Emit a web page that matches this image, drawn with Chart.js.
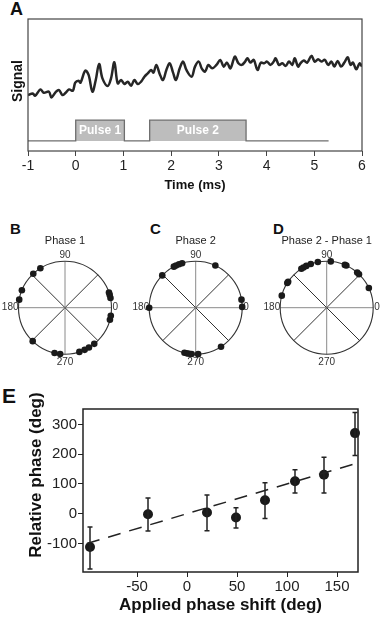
<!DOCTYPE html>
<html lang="en">
<head>
<meta charset="UTF-8">
<title>Phase shift figure</title>
<script src="https://cdn.jsdelivr.net/npm/chart.js"></script>
<style>
    body { margin: 0; background: #fff; width: 382px; height: 617px; position: relative; overflow: hidden;
           font-family: "Liberation Sans", Arial, sans-serif; }
    canvas { position: absolute; }
    .letter { position: absolute; font-weight: bold; color: #111; line-height: 1; }
</style>
</head>
<body>
<div class="letter" style="left:10px;top:0px;font-size:18px">A</div>
<div class="letter" style="left:10px;top:221px;font-size:15px">B</div>
<div class="letter" style="left:150px;top:221px;font-size:15px">C</div>
<div class="letter" style="left:273px;top:221px;font-size:15px">D</div>
<div class="letter" style="left:2px;top:385px;font-size:21px">E</div>

<canvas id="chartA" width="382" height="200" style="left:0;top:0"></canvas>
<canvas id="chartB" width="130" height="150" style="left:0;top:225px"></canvas>
<canvas id="chartC" width="130" height="150" style="left:130px;top:225px"></canvas>
<canvas id="chartD" width="122" height="150" style="left:260px;top:225px"></canvas>
<canvas id="chartE" width="382" height="232" style="left:0;top:385px"></canvas>

<script>
// Panel A: recorded signal (time in ms, arbitrary units)
const signalTime = [
    -1.00, -0.90, -0.85, -0.74, -0.67, -0.56, -0.51, -0.42, -0.35, -0.28, -0.21, -0.14, -0.06, -0.01,
    0.06, 0.10, 0.20, 0.27, 0.35, 0.42, 0.49, 0.56, 0.67, 0.74, 0.81, 0.88, 0.95,
    1.02, 1.09, 1.16, 1.23, 1.30, 1.37, 1.44, 1.51, 1.58, 1.63, 1.69, 1.76, 1.83, 1.90, 1.97,
    2.04, 2.10, 2.18, 2.25, 2.32, 2.43, 2.50, 2.58, 2.64, 2.71, 2.78, 2.86, 2.95,
    3.03, 3.10, 3.17, 3.24, 3.31, 3.34, 3.41, 3.48, 3.55, 3.60, 3.66, 3.73, 3.81, 3.88, 3.95,
    4.01, 4.08, 4.15, 4.19, 4.26, 4.33, 4.40, 4.47, 4.54, 4.59, 4.66, 4.71, 4.78, 4.85, 4.94,
    5.01, 5.08, 5.15, 5.22, 5.29, 5.36, 5.42, 5.49, 5.56, 5.63, 5.70, 5.76, 5.81, 5.88, 5.95, 6.00
];
const signalValue = [
    55.7, 57.3, 55.0, 61.3, 58.0, 59.0, 53.3, 58.7, 60.7, 55.7, 58.0, 61.3, 60.0, 68.0,
    70.0, 68.0, 80.0, 75.7, 59.0, 70.7, 86.7, 72.3, 64.7, 72.3, 88.3, 67.3, 70.7,
    66.7, 69.0, 65.0, 70.7, 66.7, 69.0, 74.0, 77.3, 80.7, 78.0, 85.7, 76.7, 70.7, 80.7, 87.3,
    78.0, 70.7, 82.3, 89.0, 80.7, 74.0, 84.0, 89.0, 82.3, 79.0, 85.7, 82.3, 85.7,
    90.7, 84.0, 88.0, 82.3, 91.3, 94.0, 87.3, 85.7, 89.0, 92.3, 88.0, 90.7, 80.7, 88.0, 87.3,
    89.0, 85.7, 89.0, 92.3, 85.7, 87.3, 84.7, 89.0, 85.7, 92.3, 84.0, 87.3, 90.0, 88.0, 94.7,
    89.0, 91.3, 89.0, 90.7, 85.7, 89.0, 84.0, 89.7, 84.0, 88.0, 93.3, 85.7, 88.0, 81.3, 87.3, 84.0
];
const pulseNames = ['Pulse 1', 'Pulse 2'];
const pulseStart = [0, 1.55];
const pulseEnd = [1.02, 3.57];
const pulseLow = 10;
const pulseHigh = 30.7;
const pulseLineStart = -1;
const pulseLineEnd = 5.3;
const timeTicks = [-1, 0, 1, 2, 3, 4, 5, 6];

// Panels B-D: phases (deg)
const phase1Angles = [122, 133, 158, 170, 12, 16, 19, 345, 350, 226, 257, 264, 288, 295, 301, 309];
const phase2Angles = [65, 107, 111, 115, 118, 136, 180, 1, 10, 256, 259, 262, 265, 273, 303];
const diffAngles = [25, 46, 49, 65, 67, 85, 101, 110, 116, 120, 123, 146, 148, 165];
const polarLabels = [0, 90, 180, 270];

// Panel E
const appliedShift = [-97, -39, 20, 49, 78, 108, 137, 168];
const relPhase = [-112, -2, 4, -13, 45, 109, 131, 271];
const relPhaseHigh = [-45, 53, 63, 20, 104, 148, 190, 340];
const relPhaseLow = [-186, -58, -57, -48, -16, 70, 70, 196];
const fitX = [-100, 168];
const fitY = [-100, 168];
const shiftTicks = [-50, 0, 50, 100, 150];
const phaseTicks = [-100, 0, 100, 200, 300];

const FONT = '"Liberation Sans", Arial, sans-serif';
Chart.defaults.font.family = FONT;
Chart.defaults.color = '#222';

const toXY = (xs, ys) => xs.map((x, i) => ({ x: x, y: ys[i] }));

const frameBox = {
    id: 'frameBox',
    afterDatasetsDraw(chart, args, opts) {
        const { ctx, chartArea } = chart;
        ctx.save();
        ctx.strokeStyle = opts.color || '#333';
        ctx.lineWidth = opts.width || 1.2;
        ctx.strokeRect(chartArea.left, chartArea.top, chartArea.width, chartArea.height);
        ctx.restore();
    }
};

// rotated axis title placed a bit off the axis centre, as in the figure
const sideTitle = {
    id: 'sideTitle',
    afterDraw(chart, args, opts) {
        if (!opts.text) return;
        const { ctx } = chart;
        ctx.save();
        ctx.translate(opts.x, opts.y);
        ctx.rotate(-Math.PI / 2);
        ctx.font = opts.font;
        ctx.fillStyle = '#111';
        ctx.textAlign = 'center';
        ctx.textBaseline = 'middle';
        ctx.fillText(opts.text, 0, 0);
        ctx.restore();
    }
};

// build pulse step trace from pulse arrays
const pulseTime = [pulseLineStart];
const pulseLevel = [pulseLow];
pulseStart.forEach((s, i) => {
    pulseTime.push(s, s, pulseEnd[i], pulseEnd[i]);
    pulseLevel.push(pulseLow, pulseHigh, pulseHigh, pulseLow);
});
pulseTime.push(pulseLineEnd);
pulseLevel.push(pulseLow);

const pulseText = {
    id: 'pulseText',
    afterDatasetsDraw(chart) {
        const { ctx, scales: { x, y } } = chart;
        ctx.save();
        ctx.fillStyle = '#fff';
        ctx.font = 'bold 12px ' + FONT;
        ctx.textAlign = 'center';
        ctx.textBaseline = 'middle';
        pulseNames.forEach((name, i) => {
            const cx = x.getPixelForValue((pulseStart[i] + pulseEnd[i]) / 2);
            const cy = y.getPixelForValue((pulseLow + pulseHigh) / 2);
            ctx.fillText(name, cx, cy);
        });
        ctx.restore();
    }
};

new Chart(document.getElementById('chartA'), {
    type: 'scatter',
    data: {
        datasets: [
            {
                data: toXY(pulseTime, pulseLevel),
                showLine: true,
                borderColor: '#6e6e6e',
                borderWidth: 1.3,
                pointRadius: 0,
                fill: { value: pulseLow },
                backgroundColor: '#bdbdbd'
            },
            {
                data: toXY(signalTime, signalValue),
                showLine: true,
                borderColor: '#262626',
                borderWidth: 2.5,
                pointRadius: 0,
                tension: 0.35,
                fill: false
            }
        ]
    },
    options: {
        responsive: false,
        animation: false,
        events: [],
        layout: { padding: { left: 0, right: 20, top: 19, bottom: 0 } },
        plugins: {
            legend: { display: false }, tooltip: { enabled: false },
            frameBox: { color: '#444', width: 1.2 },
            sideTitle: { text: 'Signal', x: 18, y: 81, font: 'bold 14px ' + FONT }
        },
        scales: {
            x: {
                type: 'linear', min: -1, max: 6,
                afterBuildTicks: s => { s.ticks = timeTicks.map(v => ({ value: v })); },
                afterFit: s => { s.height = 49; },
                ticks: { font: { size: 14 }, padding: 2, color: '#222' },
                grid: { drawOnChartArea: false, tickLength: 5, color: '#444' },
                border: { display: false },
                title: { display: true, text: 'Time (ms)', font: { size: 13, weight: 'bold' }, color: '#111', padding: { top: 0, bottom: 7 } }
            },
            y: {
                min: 0, max: 131.4,
                afterFit: s => { s.width = 28; },
                ticks: { display: false },
                grid: { display: false },
                border: { display: false }
            }
        }
    },
    plugins: [frameBox, pulseText, sideTitle]
});

// polar grid: circle, spokes and angle labels
const polarGrid = {
    id: 'polarGrid',
    beforeDatasetsDraw(chart) {
        const { ctx, scales: { x, y } } = chart;
        const cx = x.getPixelForValue(0);
        const cy = y.getPixelForValue(0);
        const r = x.getPixelForValue(1) - cx;
        ctx.save();
        for (let a = 0; a < 360; a += 45) {
            const rad = a * Math.PI / 180;
            ctx.beginPath();
            ctx.moveTo(cx, cy);
            ctx.lineTo(cx + r * Math.cos(rad), cy - r * Math.sin(rad));
            ctx.strokeStyle = a % 90 === 0 ? '#8a8a8a' : '#333';
            ctx.lineWidth = 1;
            ctx.stroke();
        }
        ctx.beginPath();
        ctx.arc(cx, cy, r, 0, Math.PI * 2);
        ctx.strokeStyle = '#333';
        ctx.lineWidth = 1.1;
        ctx.stroke();

        ctx.fillStyle = '#333';
        ctx.font = '10px ' + FONT;
        polarLabels.forEach(a => {
            const txt = String(a);
            if (a === 0) { ctx.textAlign = 'left'; ctx.textBaseline = 'middle'; ctx.fillText(txt, cx + r + 1, cy); }
            if (a === 90) { ctx.textAlign = 'center'; ctx.textBaseline = 'bottom'; ctx.fillText(txt, cx, cy - r - 1); }
            if (a === 180) { ctx.textAlign = 'right'; ctx.textBaseline = 'middle'; ctx.fillText(txt, cx - r, cy); }
            if (a === 270) { ctx.textAlign = 'center'; ctx.textBaseline = 'top'; ctx.fillText(txt, cx, cy + r + 3); }
        });
        ctx.restore();
    }
};

function polarChart(id, angles, title, padLeft, padRight) {
    return new Chart(document.getElementById(id), {
        type: 'scatter',
        data: {
            datasets: [{
                data: angles.map(a => ({ x: Math.cos(a * Math.PI / 180), y: Math.sin(a * Math.PI / 180) })),
                pointRadius: 3.3,
                backgroundColor: '#1a1a1a',
                borderWidth: 0,
                clip: false
            }]
        },
        options: {
            responsive: false,
            animation: false,
            events: [],
            layout: { padding: { left: padLeft, right: padRight, top: 0, bottom: 20.8 } },
            plugins: {
                legend: { display: false },
                tooltip: { enabled: false },
                title: { display: true, text: title, font: { size: 11, weight: 'normal' }, color: '#222', padding: { top: 9, bottom: 14 } }
            },
            scales: {
                x: { display: false, min: -1, max: 1 },
                y: { display: false, min: -1, max: 1 }
            }
        },
        plugins: [polarGrid]
    });
}

polarChart('chartB', phase1Angles, 'Phase 1', 18.5, 18.5);
polarChart('chartC', phase2Angles, 'Phase 2', 19.2, 17.8);
polarChart('chartD', diffAngles, 'Phase 2 - Phase 1', 20.2, 8.8);

// error bars for panel E
const errorBars = {
    id: 'errorBars',
    afterDatasetsDraw(chart) {
        const { ctx, scales: { x, y } } = chart;
        ctx.save();
        ctx.strokeStyle = '#222';
        ctx.lineWidth = 1.5;
        appliedShift.forEach((s, i) => {
            const px = x.getPixelForValue(s);
            const hi = y.getPixelForValue(relPhaseHigh[i]);
            const lo = y.getPixelForValue(relPhaseLow[i]);
            ctx.beginPath();
            ctx.moveTo(px, hi); ctx.lineTo(px, lo);
            ctx.moveTo(px - 2.5, hi); ctx.lineTo(px + 2.5, hi);
            ctx.moveTo(px - 2.5, lo); ctx.lineTo(px + 2.5, lo);
            ctx.stroke();
        });
        ctx.restore();
    }
};

new Chart(document.getElementById('chartE'), {
    type: 'scatter',
    data: {
        datasets: [
            {
                data: toXY(fitX, fitY),
                showLine: true,
                borderColor: '#222',
                borderWidth: 1.5,
                borderDash: [13, 9],
                pointRadius: 0
            },
            {
                data: toXY(appliedShift, relPhase),
                pointRadius: 5,
                backgroundColor: '#1a1a1a',
                borderWidth: 0,
                clip: false
            }
        ]
    },
    options: {
        responsive: false,
        animation: false,
        events: [],
        layout: { padding: { left: 0, right: 24, top: 24, bottom: 0 } },
        plugins: {
            legend: { display: false }, tooltip: { enabled: false },
            frameBox: { color: '#222', width: 1.5 },
            sideTitle: { text: 'Relative phase (deg)', x: 36, y: 90, font: 'bold 17px ' + FONT }
        },
        scales: {
            x: {
                min: -104, max: 171,
                afterBuildTicks: s => { s.ticks = shiftTicks.map(v => ({ value: v })); },
                afterFit: s => { s.height = 45; },
                ticks: { font: { size: 15 }, padding: 1, color: '#222' },
                grid: { drawOnChartArea: false, tickLength: 5, color: '#222' },
                border: { display: false },
                title: { display: true, text: 'Applied phase shift (deg)', font: { size: 17, weight: 'bold' }, color: '#111', padding: { top: 0, bottom: 1 } }
            },
            y: {
                min: -196, max: 352,
                afterBuildTicks: s => { s.ticks = phaseTicks.map(v => ({ value: v })); },
                afterFit: s => { s.width = 83; },
                ticks: { font: { size: 15 }, padding: 1, color: '#222' },
                grid: { drawOnChartArea: false, tickLength: 5, color: '#222' },
                border: { display: false }
            }
        }
    },
    plugins: [frameBox, errorBars, sideTitle]
});
</script>
</body>
</html>
